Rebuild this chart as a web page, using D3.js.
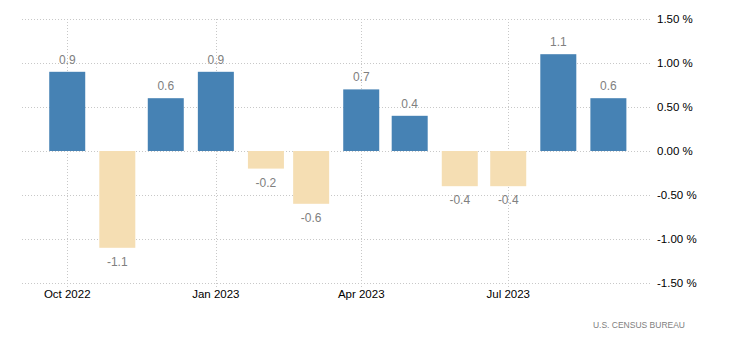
<!DOCTYPE html>
<html>
<head>
<meta charset="utf-8">
<script src="https://cdn.jsdelivr.net/npm/d3@7"></script>
<style>
  body { margin: 0; background: #fff; }
  text { font-family: "Liberation Sans", Arial, sans-serif; }
</style>
</head>
<body>
<svg id="chart"></svg>
<script>
// monthly change, percent
const months = ['2022-10', '2022-11', '2022-12', '2023-01', '2023-02', '2023-03',
  '2023-04', '2023-05', '2023-06', '2023-07', '2023-08', '2023-09'];
const values = [0.9, -1.1, 0.6, 0.9, -0.2, -0.6, 0.7, 0.4, -0.4, -0.4, 1.1, 0.6];
const yTicks = [1.5, 1.0, 0.5, 0, -0.5, -1.0, -1.5];
const xTicks = ['2022-10', '2023-01', '2023-04', '2023-07'];
const source = 'U.S.  CENSUS BUREAU';

const config = {
  width: 730,
  height: 350,
  left: 22,
  right: 652,
  top: 19,
  bottom: 283,
  barWidth: 36,
};

const parse = d3.utcParse('%Y-%m');
const data = months.map((m, i) => ({ date: parse(m), value: values[i] }));

const svg = d3.select('#chart')
  .attr('width', config.width)
  .attr('height', config.height);

const x = d3.scaleUtc()
  .domain([new Date(Date.UTC(2022, 8, 3)), new Date(Date.UTC(2023, 8, 28))])
  .range([config.left, config.right]);

const y = d3.scaleLinear()
  .domain([-1.5, 1.5])
  .range([config.bottom, config.top]);

// horizontal grid
svg.append('g')
  .selectAll('line')
  .data(yTicks)
  .join('line')
  .attr('x1', config.left)
  .attr('x2', config.right)
  .attr('y1', (d) => Math.round(y(d)) + 0.5)
  .attr('y2', (d) => Math.round(y(d)) + 0.5)
  .attr('stroke', '#c8c8c8')
  .attr('stroke-dasharray', '1,2');

// vertical grid at quarter ticks
svg.append('g')
  .selectAll('line')
  .data(xTicks.map(parse))
  .join('line')
  .attr('x1', (d) => Math.round(x(d)) + 0.5)
  .attr('x2', (d) => Math.round(x(d)) + 0.5)
  .attr('y1', config.top)
  .attr('y2', config.bottom + 4)
  .attr('stroke', '#c8c8c8')
  .attr('stroke-dasharray', '1,2');

// bars
svg.append('g')
  .selectAll('rect')
  .data(data)
  .join('rect')
  .attr('x', (d) => x(d.date) - config.barWidth / 2)
  .attr('width', config.barWidth)
  .attr('y', (d) => y(Math.max(0, d.value)))
  .attr('height', (d) => Math.abs(y(d.value) - y(0)))
  .attr('fill', (d) => (d.value >= 0 ? '#4682b4' : '#f5deb3'));

// value labels
svg.append('g')
  .selectAll('text')
  .data(data)
  .join('text')
  .attr('x', (d) => x(d.date))
  .attr('y', (d) => (d.value >= 0 ? y(d.value) - 8 : y(d.value) + 18))
  .attr('text-anchor', 'middle')
  .attr('font-size', 12)
  .attr('fill', '#808080')
  .text((d) => d.value.toFixed(1));

// y axis labels on the right
svg.append('g')
  .selectAll('text')
  .data(yTicks)
  .join('text')
  .attr('x', config.right + 5)
  .attr('y', (d) => y(d))
  .attr('dy', '0.35em')
  .attr('font-size', 11.5)
  .attr('fill', '#000')
  .text((d) => `${d.toFixed(2)} %`);

// x axis labels
svg.append('g')
  .selectAll('text')
  .data(xTicks.map(parse))
  .join('text')
  .attr('x', (d) => x(d))
  .attr('y', 298)
  .attr('text-anchor', 'middle')
  .attr('font-size', 11.5)
  .attr('fill', '#000')
  .text(d3.utcFormat('%b %Y'));

// source
svg.append('text')
  .attr('x', 685)
  .attr('y', 328)
  .attr('text-anchor', 'end')
  .attr('font-size', 8.5)
  .attr('fill', '#808080')
  .text(source);
</script>
</body>
</html>
